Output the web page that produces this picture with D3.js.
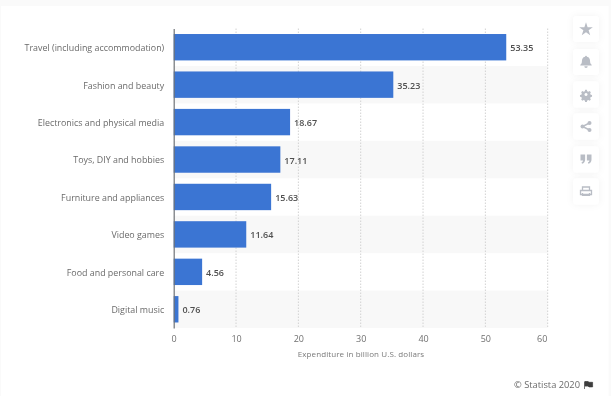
<!DOCTYPE html>
<html><head><meta charset="utf-8">
<script src="https://cdn.jsdelivr.net/npm/d3@7/dist/d3.min.js"></script>
<style>
html,body{margin:0;padding:0;background:#fff;overflow:hidden}
svg{display:block}
text{font-family:"Open Sans",sans-serif}
</style></head><body>
<svg id="c" width="614" height="410"></svg>
<script>
const categories = ["Travel (including accommodation)","Fashion and beauty","Electronics and physical media","Toys, DIY and hobbies","Furniture and appliances","Video games","Food and personal care","Digital music"];
const values = [53.35,35.23,18.67,17.11,15.63,11.64,4.56,0.76];
const valueLabels = ["53.35","35.23","18.67","17.11","15.63","11.64","4.56","0.76"];
const xTicks = [0,10,20,30,40,50,60];
const xTitle = "Expenditure in billion U.S. dollars";
const credit = "© Statista 2020";

const svg = d3.select("#c");
const defs = svg.append("defs");
const sh = defs.append("filter").attr("id","sh").attr("x","-40%").attr("y","-40%").attr("width","180%").attr("height","180%");
sh.append("feDropShadow").attr("dx",0).attr("dy",0).attr("stdDeviation",3.5).attr("flood-color","#000").attr("flood-opacity",0.05);
const soft = defs.append("filter").attr("id","soft").attr("x","-5%").attr("y","-5%").attr("width","110%").attr("height","110%");
soft.append("feGaussianBlur").attr("stdDeviation",0.4);

// page and card
svg.append("rect").attr("width",614).attr("height",396).attr("fill","#fafafa");
svg.append("rect").attr("x",1).attr("y",6).attr("width",607.5).attr("height",390).attr("fill","#fff");
svg.append("rect").attr("y",396).attr("width",614).attr("height",14).attr("fill","#fff");
svg.append("rect").attr("x",611).attr("width",3).attr("height",410).attr("fill","#fff");

const x = d3.scaleLinear().domain([0,60]).range([173.7,547.7]);
const y = d3.scaleBand().domain(categories).range([28.5,328]);
const yBar = d3.scaleBand().domain(categories).range([28.5,328]).paddingInner(0.295).paddingOuter(0.1475);

const g = svg.append("g").attr("filter","url(#soft)");

// alternating stripes
g.append("g").selectAll("rect").data(categories.filter((d,i)=>i%2===1)).join("rect")
  .attr("x",x(0)).attr("width",x(60)-x(0))
  .attr("y",d=>y(d)).attr("height",y.bandwidth()).attr("fill","#f8f8f8");

// gridlines
g.append("g").selectAll("line").data(xTicks.slice(1)).join("line")
  .attr("x1",d=>x(d)).attr("x2",d=>x(d)).attr("y1",28.5).attr("y2",328)
  .attr("stroke","#d2d2d2").attr("stroke-width",1).attr("stroke-dasharray","1.5 1.5");

// bars
g.append("g").selectAll("rect").data(categories).join("rect")
  .attr("x",x(0)).attr("y",d=>yBar(d))
  .attr("width",(d,i)=>x(values[i])-x(0)).attr("height",yBar.bandwidth())
  .attr("fill","#3b74d3");

// category axis
const yAxis = d3.axisLeft(y).tickSize(0).tickPadding(9.5);
const ya = g.append("g").attr("transform",`translate(${x(0)},0)`).call(yAxis);
ya.select(".domain").attr("stroke","#6f7378").attr("stroke-width",1.2);
ya.selectAll("text").attr("font-size",8.9).attr("fill","#6a6a6a").attr("transform","translate(0,1)").style("font-family",'"Open Sans",sans-serif');

// value axis
const xAxis = d3.axisBottom(x).tickValues(xTicks).tickSize(0).tickPadding(8);
const xa = g.append("g").attr("transform","translate(0,328)").call(xAxis);
xa.select(".domain").remove();
xa.selectAll("text").attr("font-size",9).attr("fill","#707070").style("font-family",'"Open Sans",sans-serif')
  .attr("dx",d=>d===60?-6:0);

g.append("text").attr("x",361).attr("y",356.5).attr("text-anchor","middle")
  .attr("font-size",8).attr("letter-spacing",0.1).attr("fill","#7a7a7a").text(xTitle);

// value labels
g.append("g").selectAll("text").data(categories).join("text")
  .attr("x",(d,i)=>x(values[i])+4)
  .attr("y",d=>y(d)+y.bandwidth()/2+4)
  .attr("font-size",9).attr("font-weight",600).attr("fill","#505050")
  .text((d,i)=>valueLabels[i]);

// credit + flag
g.append("text").attr("x",580).attr("y",388).attr("text-anchor","end")
  .attr("font-size",9.3).attr("fill","#6a6a6a").text(credit);
g.append("path").attr("d","M584.5 381.5v7.5M585 381.5h3l1 .8h3.6v4.6h-3.6l-1-.8h-3z")
  .attr("fill","#3c3c3c").attr("stroke","#3c3c3c").attr("stroke-width",0.7);

// toolbar
const btnY = [29,62,94.5,126.5,159.5,191.5];
const btnC = "#b9bdc5";
const icons = [
  "star",
  "M0-6.5a1 1 0 0 1 1 1c2.6.5 3.3 2.6 3.3 4.7 0 2 .7 2.8 1.7 3.8v.8h-12v-.8c1-1 1.7-1.8 1.7-3.8 0-2.1.7-4.2 3.3-4.7a1 1 0 0 1 1-1zM-1.8 4.5h3.6a1.8 1.8 0 0 1-3.6 0z",
  "M-1-5.5h2l.4 1.6 1.5.6 1.4-.8 1.4 1.4-.8 1.4.6 1.5 1.6.4v2l-1.6.4-.6 1.5.8 1.4-1.4 1.4-1.4-.8-1.5.6-.4 1.6h-2l-.4-1.6-1.5-.6-1.4.8-1.4-1.4.8-1.4-.6-1.5-1.6-.4v-2l1.6-.4.6-1.5-.8-1.4 1.4-1.4 1.4.8 1.5-.6zM0-1.8a1.8 1.8 0 1 0 .01 0z",
  "share",
  "M-5-4.5h4.2v4.5c0 2-1 3.3-2.8 3.9l-.5-1.1c.9-.4 1.3-.9 1.4-1.8h-2.3zM.8-4.5h4.2v4.5c0 2-1 3.3-2.8 3.9l-.5-1.1c.9-.4 1.3-.9 1.4-1.8H.8z",
  "print"
];
const iconScale = [1,0.95,0.85,1,1.1,1];
const tb = svg.append("g");
btnY.forEach((cy,i)=>{
  const b = tb.append("g").attr("transform",`translate(586,${cy})`);
  b.append("rect").attr("x",-13).attr("y",-13).attr("width",26).attr("height",26).attr("rx",4)
    .attr("fill","#fff").attr("filter","url(#sh)");
  const ic = b.append("g").attr("filter","url(#soft)");
  if(icons[i]==="star"){
    ic.append("path").attr("d",d3.symbol(d3.symbolStar,58)()).attr("fill",btnC).attr("transform","translate(0,.5)");
  } else if(icons[i]==="share"){
    ic.append("path").attr("d","M3.5-3.5L-3.5 0L3.5 3.5").attr("fill","none").attr("stroke",btnC).attr("stroke-width",1.4);
    [[3.5,-3.5],[-3.5,0],[3.5,3.5]].forEach(p=>ic.append("circle").attr("cx",p[0]).attr("cy",p[1]).attr("r",2).attr("fill",btnC));
  } else if(icons[i]==="print"){
    ic.append("path").attr("d","M-3.5-1V-4.5h7V-1M-5.5-1h11v4h-11zM-3.5 1.5V4h7V1.5").attr("fill","none").attr("stroke",btnC).attr("stroke-width",1.3);
  } else {
    ic.append("path").attr("d",icons[i]).attr("fill",btnC).attr("fill-rule","evenodd").attr("transform",`scale(${iconScale[i]})`);
  }
});
</script>
</body></html>
